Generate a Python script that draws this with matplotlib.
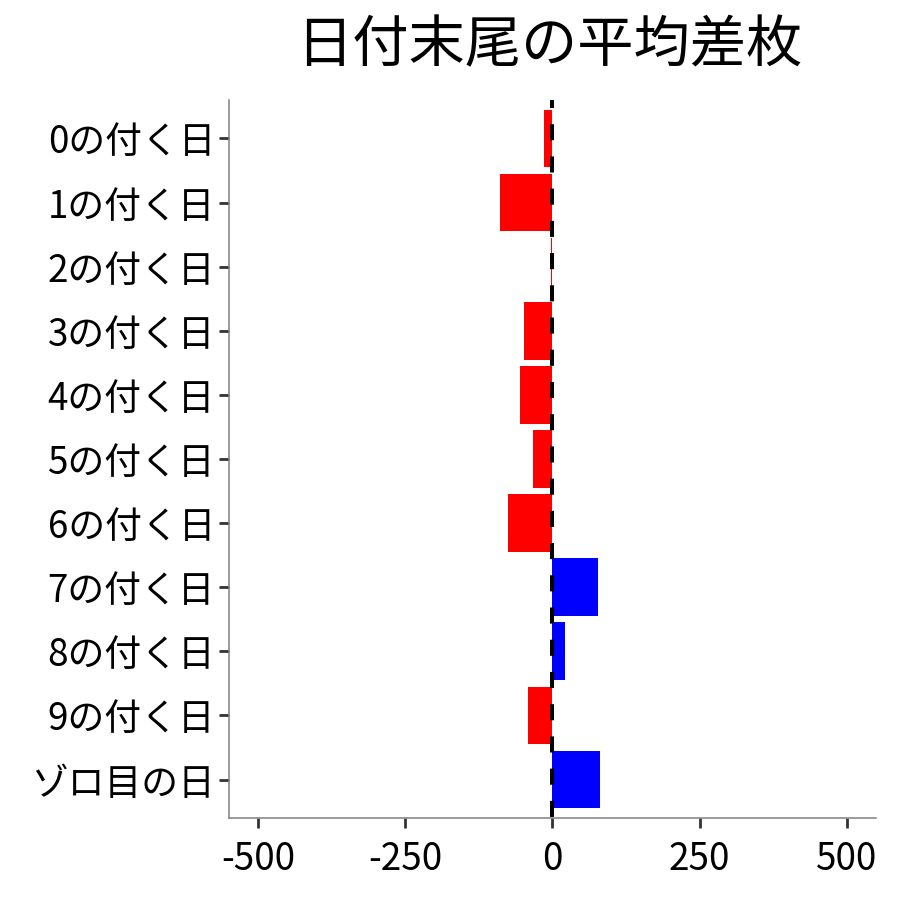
import matplotlib
matplotlib.use('Agg')
import matplotlib.pyplot as plt
import numpy as np

plt.rcParams['font.family'] = ['Noto Sans CJK JP', 'DejaVu Sans']

# data
categories = ['0の付く日', '1の付く日', '2の付く日', '3の付く日', '4の付く日',
              '5の付く日', '6の付く日', '7の付く日', '8の付く日', '9の付く日',
              'ゾロ目の日']
values = [-14, -89, -2, -48, -55, -33, -75, 78, 21, -41, 81]
xticks = [-500, -250, 0, 250, 500]
title = '日付末尾の平均差枚'

n = len(categories)
ypos = np.arange(n, 0, -1)  # first category on top
colors = ['#0000FF' if v > 0 else '#FF0000' for v in values]

fig = plt.figure(figsize=(9, 9), dpi=100)
ax = fig.add_axes([0.2544, 0.0911, 0.9733 - 0.2544, 0.8889 - 0.0911])

ax.barh(ypos, values, height=0.9, color=colors, zorder=2)
ax.plot([0, 0], [n + 0.6, 0.4], color='black', linewidth=2.9,
        linestyle=(2, (4, 4)), zorder=3)

ax.set_xlim(-550, 550)
ax.set_ylim(0.4, n + 0.6)
ax.set_xticks(xticks)
ax.set_xticklabels([str(t) for t in xticks])
ax.set_yticks(ypos)
ax.set_yticklabels(categories)

for s in ['top', 'right']:
    ax.spines[s].set_visible(False)
for s in ['left', 'bottom']:
    ax.spines[s].set_color('#808080')
    ax.spines[s].set_linewidth(1.1)

ax.tick_params(axis='both', which='major', length=7, width=2,
               color='#333333', labelsize=26.5, labelcolor='black', pad=3)
ax.tick_params(axis='x', pad=9)

fig.text((0.2544 + 0.9733) / 2 - 3 / 900, 1 - 46 / 900, title, ha='center',
         va='center', fontsize=40.5)

fig.savefig('out.png', dpi=100)
